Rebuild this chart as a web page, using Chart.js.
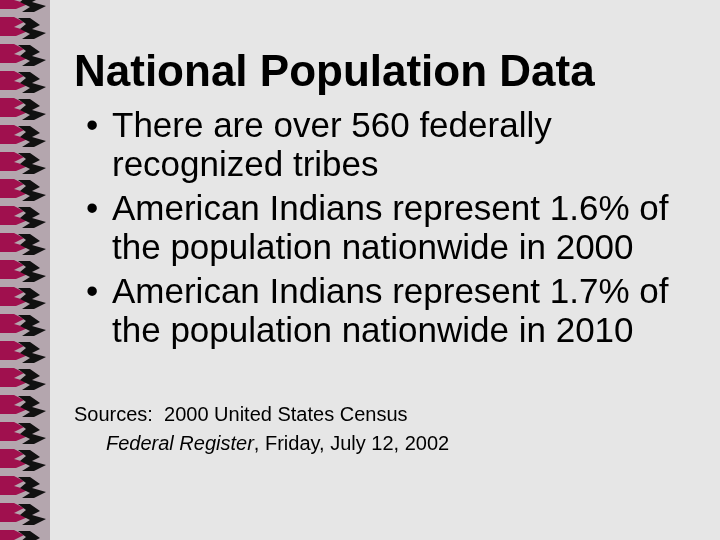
<!DOCTYPE html>
<html><head><meta charset="utf-8">
<script src="https://cdn.jsdelivr.net/npm/chart.js"></script>
<style>html,body{margin:0;padding:0;background:#e6e6e6}#c{display:block}</style>
</head><body>
<canvas id="c" width="720" height="540"></canvas>
<script>
const title = "National Population Data";
const tribeCount = 560;
const years = [2000, 2010];
const shares = ["1.6%", "1.7%"];
const bullets = [
  ["There are over " + tribeCount + " federally", "recognized tribes"],
  ["American Indians represent " + shares[0] + " of", "the population nationwide in " + years[0]],
  ["American Indians represent " + shares[1] + " of", "the population nationwide in " + years[1]]
];
const sources = ["Sources:  2000 United States Census", "Federal Register", ", Friday, July 12, 2002"];

const slidePlugin = {
  id: "slide",
  beforeDraw(chart) {
    const c = chart.ctx;
    c.save();
    c.fillStyle = "#e6e6e6";
    c.fillRect(0, 0, 720, 540);
    // border strip
    c.fillStyle = "#b4a6ae";
    c.fillRect(0, 0, 50, 540);
    for (let y = -10; y < 560; y += 27) {
      c.fillStyle = "#a0104e";
      c.beginPath();
      c.moveTo(0, y); c.lineTo(14, y); c.lineTo(24, y + 5); c.lineTo(14, y + 10);
      c.lineTo(28, y + 14); c.lineTo(16, y + 19); c.lineTo(0, y + 19); c.closePath(); c.fill();
      c.fillStyle = "#111";
      c.beginPath();
      c.moveTo(18, y + 1); c.lineTo(30, y + 1); c.lineTo(40, y + 8); c.lineTo(32, y + 12);
      c.lineTo(46, y + 16); c.lineTo(34, y + 22); c.lineTo(22, y + 22); c.lineTo(30, y + 17);
      c.lineTo(20, y + 12); c.lineTo(26, y + 7); c.closePath(); c.fill();
    }
    c.fillStyle = "#000";
    c.textBaseline = "alphabetic";
    c.font = "bold 44px 'Liberation Sans', Arial";
    c.fillText(title, 74, 86);
    c.font = "35px 'Liberation Sans', Arial";
    let y = 137;
    bullets.forEach(b => {
      c.fillText("\u2022", 86, y);
      c.fillText(b[0], 112, y);
      c.fillText(b[1], 112, y + 39);
      y += 83;
    });
    c.font = "20px 'Liberation Sans', Arial";
    c.fillText(sources[0], 74, 421);
    c.font = "italic 20px 'Liberation Sans', Arial";
    c.fillText(sources[1], 106, 450);
    const w = c.measureText(sources[1]).width;
    c.font = "20px 'Liberation Sans', Arial";
    c.fillText(sources[2], 106 + w, 450);
    c.restore();
  }
};

new Chart(document.getElementById("c"), {
  type: "bar",
  data: { labels: [], datasets: [{ data: [] }] },
  options: {
    responsive: false, animation: false,
    plugins: { legend: { display: false }, tooltip: { enabled: false } },
    scales: { x: { display: false }, y: { display: false } }
  },
  plugins: [slidePlugin]
});
</script>
</body></html>
